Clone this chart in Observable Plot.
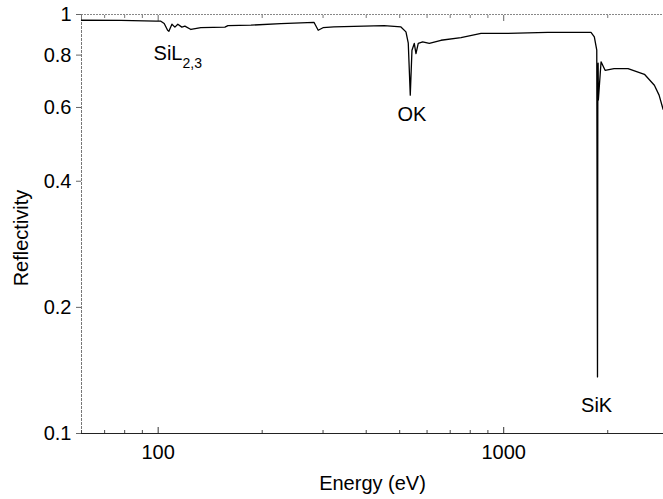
<!DOCTYPE html>
<html><head><meta charset="utf-8">
<script src="https://cdn.jsdelivr.net/npm/d3@7"></script>
<script src="https://cdn.jsdelivr.net/npm/@observablehq/plot@0.6"></script>
<style>body{margin:0;background:#fff;}</style>
</head><body><div id="chart"></div>
<script>
// Energy (eV) and reflectivity
const energy = [60, 78, 98.5, 101.8, 104.1, 106.5, 107.4, 109.6, 111.8, 114.0, 117.1, 119.5, 124.4, 132.9, 156.0, 159.2, 185.5, 226.5, 282.4, 290.5, 299.9, 322.6, 450.3, 504.2, 521.3, 529.4, 536.5, 542.6, 551.0, 557.3, 565.8, 582.8, 609.0, 658.4, 752.2, 859.8, 982.2, 1341, 1789, 1829, 1859, 1868, 1872, 1876, 1879, 1913, 1965, 2086, 2290, 2554, 2729, 2816, 2892];
const reflectivity = [0.969, 0.968, 0.964, 0.964, 0.952, 0.917, 0.912, 0.948, 0.933, 0.948, 0.933, 0.938, 0.921, 0.930, 0.933, 0.941, 0.943, 0.951, 0.958, 0.917, 0.930, 0.934, 0.941, 0.934, 0.909, 0.854, 0.642, 0.822, 0.853, 0.807, 0.853, 0.860, 0.853, 0.868, 0.881, 0.901, 0.901, 0.906, 0.906, 0.884, 0.822, 0.1365, 0.625, 0.765, 0.625, 0.771, 0.736, 0.743, 0.743, 0.720, 0.678, 0.642, 0.594];

// Tick values
const xTicksMajor = [100, 1000];
const xTicksMinor = [60, 70, 80, 90, 200, 300, 400, 500, 600, 700, 800, 900, 2000];
const yTicks = [0.1, 0.2, 0.4, 0.6, 0.8, 1];

// Edge annotations
const edgeLabel = ["SiL", "OK", "SiK"];
const edgeSub = ["2,3", "", ""];
const edgeEnergy = [97, 542.6, 1857];
const edgeR = [0.778, 0.556, 0.1126];

const data = energy.map((e, i) => ({energy: e, reflectivity: reflectivity[i]}));
const edges = edgeLabel.map((t, i) => ({text: t, sub: edgeSub[i], energy: edgeEnergy[i], r: edgeR[i]}));

const font = "'Liberation Sans', Arial, Helvetica, sans-serif";

const chart = Plot.plot({
  width: 663, height: 499,
  marginLeft: 81, marginRight: 0, marginTop: 14, marginBottom: 66,
  style: {fontFamily: font, fontSize: "20px", background: "#fff", color: "#000"},
  x: {type: "log", domain: [60, 2900]},
  y: {type: "log", domain: [0.1, 1]},
  marks: [
    Plot.ruleY([1], {stroke: "#888", strokeDasharray: "2,1"}),
    Plot.ruleX([60], {stroke: "#777", strokeDasharray: "3,1"}),
    Plot.ruleY([0.1], {stroke: "#222"}),
    Plot.axisX({ticks: xTicksMajor, tickSize: 0, tickPadding: 11, tickFormat: d => String(d), fontSize: 20, label: null, fill: "#000"}),
    Plot.axisX({ticks: xTicksMajor, tickSize: -6, tickFormat: () => "", label: null, stroke: "#333"}),
    Plot.axisX({ticks: xTicksMinor, tickSize: -3, tickFormat: () => "", label: null, stroke: "#444"}),
    Plot.axisX({anchor: "top", ticks: xTicksMajor, tickSize: -6, tickFormat: () => "", label: null, stroke: "#666"}),
    Plot.axisX({anchor: "top", ticks: xTicksMinor, tickSize: -3, tickFormat: () => "", label: null, stroke: "#777"}),
    Plot.axisY({ticks: yTicks, tickSize: 5, tickPadding: 5, tickFormat: d => String(d), fontSize: 20, label: null, stroke: "#666", fill: "#000"}),
    Plot.line(data, {x: "energy", y: "reflectivity", stroke: "#000", strokeWidth: 1.3}),
    Plot.text(edges.filter(d => d.sub), {x: "energy", y: "r", text: "text", textAnchor: "start", lineAnchor: "bottom", fontSize: 20, fill: "#000"}),
    Plot.text(edges.filter(d => !d.sub), {x: "energy", y: "r", text: "text", textAnchor: "middle", lineAnchor: "bottom", fontSize: 20, fill: "#000"}),
    Plot.text(["Energy (eV)"], {frameAnchor: "bottom", text: d => d, textAnchor: "middle", dy: 56, lineAnchor: "bottom", fontSize: 20, fill: "#000"}),
    Plot.text(["Reflectivity"], {frameAnchor: "left", text: d => d, textAnchor: "middle", dx: -60, dy: 14, rotate: -90, fontSize: 20, fill: "#000"})
  ]
});

// subscripts as tspans right after their edge label
d3.select(chart).selectAll("text").each(function() {
  const a = edges.find(d => d.sub && d.text === this.textContent);
  if (a) {
    d3.select(this).append("tspan").attr("dy", 8).attr("font-size", 14).text(a.sub);
  }
});

document.getElementById("chart").appendChild(chart);
</script>
</body></html>
